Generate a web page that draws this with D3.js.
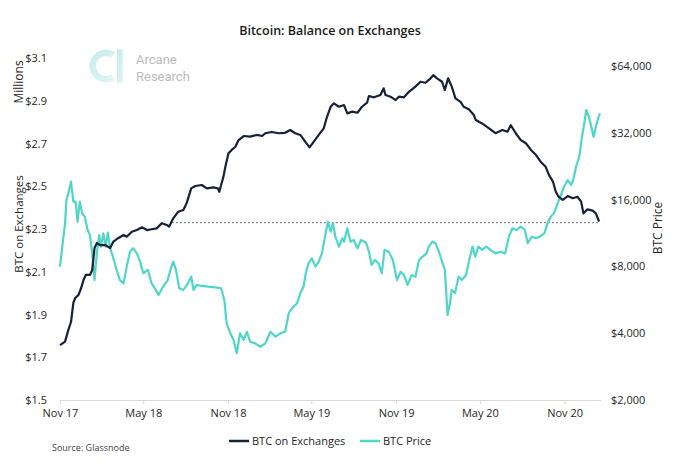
<!DOCTYPE html>
<html>
<head>
<meta charset="utf-8">
<script src="https://cdn.jsdelivr.net/npm/d3@7"></script>
<style>
  html, body { margin: 0; padding: 0; background: #fff; }
  svg { display: block; font-family: "Open Sans", "Noto Sans", sans-serif; }
</style>
</head>
<body>
<svg id="chart" width="680" height="464"></svg>
<script>
// ---------- data ----------
const balanceData = [
["2017-11-21",1.757],["2017-12-02",1.773],["2017-12-09",1.827],["2017-12-15",1.866],
["2017-12-20",1.954],["2017-12-24",1.977],["2017-12-31",1.991],["2018-01-06",2.024],
["2018-01-11",2.061],["2018-01-16",2.085],["2018-01-25",2.085],["2018-01-30",2.108],
["2018-02-04",2.211],["2018-02-09",2.234],["2018-02-16",2.225],["2018-02-27",2.225],
["2018-03-10",2.211],["2018-03-17",2.241],["2018-03-28",2.258],["2018-04-08",2.272],
["2018-04-15",2.264],["2018-04-26",2.287],["2018-05-07",2.295],["2018-05-18",2.308],
["2018-05-29",2.295],["2018-06-08",2.299],["2018-06-19",2.303],["2018-06-30",2.327],
["2018-07-11",2.319],["2018-07-16",2.311],["2018-07-25",2.350],["2018-08-05",2.381],
["2018-08-16",2.389],["2018-08-23",2.420],["2018-09-02",2.490],["2018-09-11",2.501],
["2018-09-25",2.506],["2018-10-06",2.490],["2018-10-20",2.495],["2018-10-30",2.490],
["2018-11-02",2.474],["2018-11-11",2.545],["2018-11-16",2.599],["2018-11-22",2.654],
["2018-11-29",2.670],["2018-12-07",2.685],["2018-12-14",2.716],["2018-12-25",2.735],
["2019-01-08",2.732],["2019-01-23",2.740],["2019-02-03",2.735],["2019-02-10",2.748],
["2019-02-24",2.754],["2019-03-11",2.748],["2019-03-25",2.750],["2019-04-05",2.763],
["2019-04-16",2.748],["2019-04-27",2.740],["2019-05-08",2.708],["2019-05-17",2.682],
["2019-05-26",2.708],["2019-06-06",2.740],["2019-06-17",2.771],["2019-06-24",2.825],
["2019-07-02",2.872],["2019-07-09",2.888],["2019-07-20",2.872],["2019-07-31",2.880],
["2019-08-07",2.841],["2019-08-18",2.849],["2019-08-29",2.844],["2019-09-08",2.872],
["2019-09-19",2.891],["2019-09-23",2.922],["2019-10-04",2.916],["2019-10-18",2.927],
["2019-10-25",2.958],["2019-10-29",2.927],["2019-11-09",2.919],["2019-11-20",2.903],
["2019-11-27",2.919],["2019-12-08",2.916],["2019-12-19",2.942],["2020-01-02",2.966],
["2020-01-13",2.989],["2020-01-24",2.984],["2020-02-04",3.005],["2020-02-10",3.020],
["2020-02-18",3.005],["2020-02-29",2.989],["2020-03-06",2.950],["2020-03-13",3.005],
["2020-03-21",2.966],["2020-03-29",2.911],["2020-04-09",2.895],["2020-04-16",2.872],
["2020-04-27",2.860],["2020-05-08",2.833],["2020-05-12",2.810],["2020-05-26",2.794],
["2020-06-10",2.771],["2020-06-24",2.748],["2020-07-09",2.763],["2020-07-20",2.755],
["2020-07-27",2.786],["2020-08-07",2.748],["2020-08-18",2.716],["2020-08-29",2.701],
["2020-09-09",2.670],["2020-09-20",2.646],["2020-09-30",2.615],["2020-10-11",2.591],
["2020-10-18",2.553],["2020-10-27",2.521],["2020-11-02",2.474],["2020-11-08",2.451],
["2020-11-17",2.436],["2020-11-28",2.454],["2020-12-09",2.444],["2020-12-19",2.451],
["2020-12-27",2.428],["2021-01-01",2.373],["2021-01-10",2.392],["2021-01-21",2.386],
["2021-01-28",2.373],["2021-02-04",2.335]
];

const priceData = [
["2017-11-21",7980],["2017-11-26",9820],["2017-12-02",12510],["2017-12-05",15940],
["2017-12-09",17070],["2017-12-15",19270],["2017-12-20",15660],["2017-12-25",15660],
["2017-12-29",12720],["2018-01-03",15660],["2018-01-08",13880],["2018-01-14",13400],
["2018-01-20",11670],["2018-01-25",11080],["2018-01-30",9160],["2018-02-04",6945],
["2018-02-09",9160],["2018-02-14",11080],["2018-02-18",9820],["2018-02-23",11280],
["2018-02-28",9820],["2018-03-05",11350],["2018-03-10",9660],["2018-03-17",8700],
["2018-03-24",7710],["2018-03-31",6945],["2018-04-08",6710],["2018-04-15",7980],
["2018-04-22",9320],["2018-04-29",9660],["2018-05-07",9160],["2018-05-14",8400],
["2018-05-21",7450],["2018-05-31",7710],["2018-06-08",6710],["2018-06-15",6375],
["2018-06-23",5945],["2018-07-03",6480],["2018-07-13",6945],["2018-07-20",7845],
["2018-07-25",8400],["2018-07-31",7710],["2018-08-07",6375],["2018-08-16",6265],
["2018-08-26",6710],["2018-09-02",7190],["2018-09-07",6265],["2018-09-14",6600],
["2018-09-25",6530],["2018-10-09",6480],["2018-10-24",6440],["2018-11-06",6375],
["2018-11-13",5645],["2018-11-18",4430],["2018-11-26",3995],["2018-12-03",3730],
["2018-12-10",3250],["2018-12-17",3995],["2018-12-25",3730],["2019-01-01",4060],
["2019-01-08",3660],["2019-01-19",3600],["2019-01-30",3475],["2019-02-10",3600],
["2019-02-21",4060],["2019-03-04",3860],["2019-03-15",3995],["2019-03-25",4060],
["2019-04-02",4920],["2019-04-09",5180],["2019-04-20",5455],["2019-04-27",6050],
["2019-05-04",6480],["2019-05-09",7450],["2019-05-15",8265],["2019-05-22",8700],
["2019-05-30",7980],["2019-06-06",8400],["2019-06-13",9160],["2019-06-21",11280],
["2019-06-26",12720],["2019-07-02",11470],["2019-07-07",12510],["2019-07-12",10890],
["2019-07-20",9820],["2019-07-27",10710],["2019-07-31",10340],["2019-08-07",11880],
["2019-08-14",10340],["2019-08-21",10520],["2019-08-29",9660],["2019-09-06",10520],
["2019-09-17",10230],["2019-09-23",9320],["2019-09-29",8115],["2019-10-06",8550],
["2019-10-14",8265],["2019-10-21",7450],["2019-10-27",9490],["2019-11-05",9320],
["2019-11-14",8550],["2019-11-23",6945],["2019-12-01",7570],["2019-12-08",7315],
["2019-12-16",6600],["2019-12-25",7315],["2020-01-02",7190],["2020-01-10",8550],
["2020-01-18",8850],["2020-01-26",9160],["2020-01-31",9820],["2020-02-08",10340],
["2020-02-15",10170],["2020-02-22",9320],["2020-02-29",8400],["2020-03-06",7710],
["2020-03-12",4830],["2020-03-17",5455],["2020-03-21",6265],["2020-03-28",6050],
["2020-04-05",7190],["2020-04-12",6945],["2020-04-21",7315],["2020-04-28",8550],
["2020-05-05",9820],["2020-05-11",8850],["2020-05-18",9820],["2020-05-26",9490],
["2020-06-04",9820],["2020-06-13",9490],["2020-06-24",9160],["2020-07-05",9320],
["2020-07-15",9160],["2020-07-23",10890],["2020-07-31",11880],["2020-08-09",11670],
["2020-08-18",12080],["2020-08-27",11670],["2020-09-02",10170],["2020-09-11",10890],
["2020-09-20",10710],["2020-09-28",10890],["2020-10-08",11280],["2020-10-15",12510],
["2020-10-22",13400],["2020-10-29",13880],["2020-11-06",15400],["2020-11-13",16780],
["2020-11-20",18290],["2020-11-28",19600],["2020-12-05",18620],["2020-12-10",19600],
["2020-12-16",22520],["2020-12-23",24970],["2020-12-29",30740],["2021-01-03",35330],
["2021-01-07",40540],["2021-01-13",37830],["2021-01-18",34080],["2021-01-23",30740],
["2021-01-28",34080],["2021-02-03",37830],["2021-02-06",39180]
];

const xDomain = ["2017-11-21", "2021-02-06"];
const xTickDates = ["2017-11-21","2018-05-21","2018-11-21","2019-05-21","2019-11-21","2020-05-21","2020-11-21"];
const xTickLabels = ["Nov 17","May 18","Nov 18","May 19","Nov 19","May 20","Nov 20"];
const leftTicks = [1.5, 1.7, 1.9, 2.1, 2.3, 2.5, 2.7, 2.9, 3.1];
const rightTicks = [2000, 4000, 8000, 16000, 32000, 64000];
const refLevel = 2.33;
const refStart = "2018-07-22";
const seriesNames = ["BTC on Exchanges", "BTC Price"];

(function () {
const parse = d3.utcParse("%Y-%m-%d");
const colBalance = "#16213a";
const colPrice = "#4fd6c8";
const txt = "#262626";

const svg = d3.select("#chart");
const pL = 60, pR = 600, pT = 58, pB = 400;

const x = d3.scaleUtc().domain(xDomain.map(parse)).range([pL, pR]);
const yL = d3.scaleLinear().domain([1.5, 3.1]).range([pB, pT]);
const yR = d3.scaleLog().base(2).domain([2000, 64000]).range([pB, 66]);

// title
svg.append("text").attr("x", 330).attr("y", 35).attr("text-anchor", "middle")
  .attr("font-size", 12.5).attr("font-weight", 600).attr("fill", "#1a1a1a")
  .text("Bitcoin: Balance on Exchanges");

// logo
const defs = svg.append("defs");
const grad = defs.append("linearGradient").attr("id", "lg").attr("x1", "0").attr("y1", "0").attr("x2", "1").attr("y2", "1");
grad.append("stop").attr("offset", "0").attr("stop-color", "#c4ecea");
grad.append("stop").attr("offset", "1").attr("stop-color", "#e2f6f4");
const logo = svg.append("g").attr("class", "logo");
logo.append("path")
  .attr("transform", "translate(106,66)")
  .attr("d", d3.arc()({innerRadius: 10, outerRadius: 16.5, startAngle: Math.PI/2 + 1.0, endAngle: 2*Math.PI + Math.PI/2 - 1.0}))
  .attr("fill", "url(#lg)");
logo.append("rect").attr("x", 117).attr("y", 49.5).attr("width", 6).attr("height", 33).attr("fill", "url(#lg)");
logo.append("text").attr("x", 136).attr("y", 64).attr("font-size", 13).attr("fill", "#bcbcbc")
  .attr("font-family", "Roboto, 'Open Sans', sans-serif").text("Arcane");
logo.append("text").attr("x", 136).attr("y", 81).attr("font-size", 13).attr("fill", "#bcbcbc")
  .attr("font-family", "Roboto, 'Open Sans', sans-serif").text("Research");

// x axis
const xAxis = svg.append("g").attr("transform", `translate(0,${pB})`)
  .call(d3.axisBottom(x).tickValues(xTickDates.map(parse))
    .tickFormat((d, i) => xTickLabels[i]).tickSize(4).tickPadding(5));
xAxis.select(".domain").remove();
xAxis.selectAll(".tick line").attr("stroke", "#d9d9d9");
xAxis.selectAll("text").attr("font-size", 11).attr("fill", txt).attr("font-family", "'Open Sans', sans-serif");
svg.append("line").attr("x1", pL - 1).attr("x2", pR + 1).attr("y1", pB + 0.5).attr("y2", pB + 0.5)
  .attr("stroke", "#d9d9d9");

// left axis
const lAxis = svg.append("g").attr("transform", `translate(${pL},0)`)
  .call(d3.axisLeft(yL).tickValues(leftTicks).tickFormat(d3.format("$.1f")).tickSize(0).tickPadding(13));
lAxis.select(".domain").remove();
lAxis.selectAll("text").attr("font-size", 11).attr("fill", txt).attr("font-family", "'Open Sans', sans-serif");

// right axis
const rAxis = svg.append("g").attr("transform", `translate(${pR},0)`)
  .call(d3.axisRight(yR).tickValues(rightTicks).tickFormat(d3.format("$,")).tickSize(0).tickPadding(11));
rAxis.select(".domain").remove();
rAxis.selectAll("text").attr("font-size", 11).attr("fill", txt).attr("font-family", "'Open Sans', sans-serif");

// axis titles
svg.append("text").attr("transform", "translate(23,82) rotate(-90)").attr("text-anchor", "middle")
  .attr("font-size", 12).attr("fill", txt).text("Millions");
svg.append("text").attr("transform", "translate(23,224) rotate(-90)").attr("text-anchor", "middle")
  .attr("font-size", 11.5).attr("fill", txt).text("BTC on Exchanges");
svg.append("text").attr("transform", "translate(662,228) rotate(-90)").attr("text-anchor", "middle")
  .attr("font-size", 12).attr("fill", txt).text("BTC Price");

// reference dashed line
svg.append("line")
  .attr("x1", x(parse(refStart))).attr("x2", x(parse(balanceData[balanceData.length - 1][0])))
  .attr("y1", yL(refLevel)).attr("y2", yL(refLevel))
  .attr("stroke", "#8c8c8c").attr("stroke-width", 1.2).attr("stroke-dasharray", "2,2");

// lines
const lineL = d3.line().x(d => x(parse(d[0]))).y(d => yL(d[1]));
const lineR = d3.line().x(d => x(parse(d[0]))).y(d => yR(d[1]));

svg.append("path").datum(priceData).attr("d", lineR)
  .attr("fill", "none").attr("stroke", colPrice).attr("stroke-width", 2.2).attr("stroke-linejoin", "round");
svg.append("path").datum(balanceData).attr("d", lineL)
  .attr("fill", "none").attr("stroke", colBalance).attr("stroke-width", 2.2).attr("stroke-linejoin", "round");

// legend
const legend = svg.append("g");
const legItems = [
  {name: seriesNames[0], color: colBalance, x: 229, tx: 252},
  {name: seriesNames[1], color: colPrice, x: 360, tx: 383}
];
legItems.forEach(it => {
  legend.append("line").attr("x1", it.x).attr("x2", it.x + 20).attr("y1", 441).attr("y2", 441)
    .attr("stroke", it.color).attr("stroke-width", 2.5);
  legend.append("text").attr("x", it.tx).attr("y", 445).attr("font-size", 11).attr("fill", txt).text(it.name);
});

// source
svg.append("text").attr("x", 52).attr("y", 451).attr("font-size", 9).attr("fill", "#444").text("Source: Glassnode");
})();
</script>
</body>
</html>
